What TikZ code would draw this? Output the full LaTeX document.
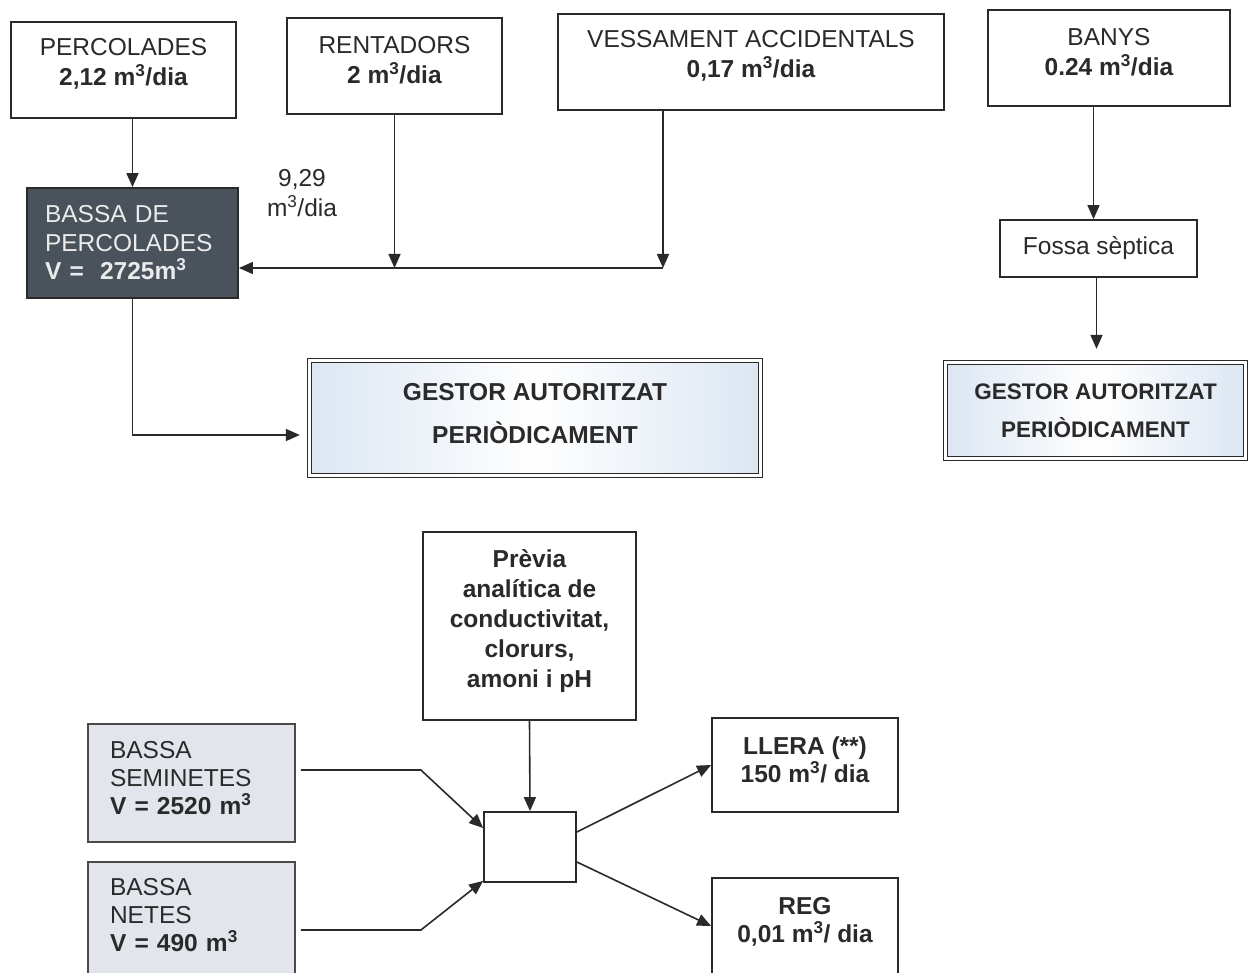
\documentclass[tikz,border=0pt]{standalone}
\usepackage{fontspec}
\setmainfont{Liberation Sans}
\usetikzlibrary{arrows.meta,calc}
\definecolor{ink}{HTML}{2A2A2A}
\definecolor{dark}{HTML}{4A535C}
\definecolor{pale}{HTML}{E2E6EC}
\definecolor{gblue}{HTML}{DCE6F2}
\begin{document}
\begin{tikzpicture}[x=1pt,y=-1pt,
  box/.style={draw=ink, line width=2.3pt, inner sep=0pt},
  thinbox/.style={box, line width=1.8pt},
  txt/.style={inner sep=0pt, align=center, text=ink, font=\fontsize{24.5}{30.5}\selectfont},
  btxt/.style={txt, font=\bfseries\fontsize{24.5}{28}\selectfont},
  gest/.style={draw=ink, double=white, double distance=2.5pt, line width=1.3pt,
    inner sep=0pt, align=center, text=ink,
    left color=gblue, right color=gblue, middle color=white},
  pond/.style={box, line width=1.8pt, draw=ink!85, fill=pale},
  pondtxt/.style={txt, align=left, text width=163pt, font=\fontsize{24.5}{28}\selectfont},
  arr/.style={draw=ink, line width=1.6pt, -{Triangle[width=12pt,length=14pt]}}]
\useasboundingbox (0,0) rectangle (1253,973);
\fill[white] (0,0) rectangle (1253,973);
\clip (0,0) rectangle (1253,973);

% top sources
\node[box, minimum width=225pt, minimum height=96pt] (perc) at (123.5,70) {};
\node[txt] (percT) at ([yshift=6pt]perc.center) {PERCOLADES\\\textbf{2,12 m\textsuperscript{3}/dia}};
\node[box, minimum width=215pt, minimum height=96pt] (rent) at (394.5,66) {};
\node[txt] (rentT) at ([yshift=6pt]rent.center) {RENTADORS\\\textbf{2 m\textsuperscript{3}/dia}};
\node[box, minimum width=386pt, minimum height=96pt] (vess) at (751,62) {};
\node[txt] (vessT) at ([yshift=6pt]vess.center) {VESSAMENT ACCIDENTALS\\\textbf{0,17 m\textsuperscript{3}/dia}};
\node[box, minimum width=242pt, minimum height=96pt] (banys) at (1109,58) {};
\node[txt] (banysT) at ([yshift=6pt]banys.center) {BANYS\\\textbf{0.24 m\textsuperscript{3}/dia}};

% bassa de percolades
\node[box, line width=1.8pt, fill=dark, text=white!92!black, align=left, text width=175pt,
  minimum width=211pt, minimum height=110pt, font=\fontsize{24.5}{28.5}\selectfont]
  (bassaP) at (132.5,243)
  {BASSA DE\\PERCOLADES\\\textbf{V =\ \ 2725m\textsuperscript{3}}};
\node[txt, font=\fontsize{24.5}{30}\selectfont] (flow) at (302,193) {9,29\\m\textsuperscript{3}/dia};

\node[thinbox, minimum width=197pt, minimum height=57pt, text=ink,
  font=\fontsize{24.5}{30}\selectfont] (fossa) at (1098.5,248.5) {Fossa sèptica};

\node[gest, minimum width=451pt, minimum height=115pt] (g1) at (535,418) {};
\node[txt, font=\bfseries\fontsize{24.5}{30.5}\selectfont] (g1T) at ([yshift=4pt]g1.center)
  {GESTOR AUTORITZAT\\[12.5pt]PERIÒDICAMENT};
\node[gest, minimum width=300pt, minimum height=96pt,
  font=\bfseries\fontsize{22.5}{28}\selectfont] (g2) at (1095.5,410.5)
  {GESTOR AUTORITZAT\\[10pt]PERIÒDICAMENT};

% connectors top
\coordinate (vj) at (663,268);
\draw[arr] (bassaP.north |- perc.south) -- (bassaP.north);
\draw[arr] (vj |- vess.south) -- (vj);
\draw[arr] (rent.south) -- (rent.south |- vj);
\draw[arr] (vj) -- (bassaP.east |- vj);
\draw[arr] (bassaP.south) |- ($(g1.west)+(-9,17)$);
\draw[arr] ($(fossa.north |- banys.south)+(-5,0)$) -- ($(fossa.north)+(-5,0)$);
\draw[arr] ($(fossa.south)+(-2,0)$) -- ($(fossa.south |- g2.north)+(-2,-13)$);

% bottom part
\node[thinbox, minimum width=213pt, minimum height=188pt] (prev) at (529.5,626) {};
\node[btxt, font=\bfseries\fontsize{24.5}{30}\selectfont] (prevT) at ([yshift=5pt]prev.center)
  {Prèvia\\analítica de\\conductivitat,\\clorurs,\\amoni i pH};
\node[thinbox, minimum width=92pt, minimum height=70pt] (sm) at (530,847) {};
\node[pond, minimum width=207pt, minimum height=118pt] (semi) at (191.5,783) {};
\node[pondtxt] (semiT) at ([yshift=5pt]semi.center)
  {BASSA\\SEMINETES\\\textbf{V = 2520 m\textsuperscript{3}}};
\node[pond, minimum width=207pt, minimum height=113pt] (netes) at (191.5,918.5) {};
\node[pondtxt] (netesT) at ([yshift=3pt]netes.center)
  {BASSA\\NETES\\\textbf{V = 490 m\textsuperscript{3}}};
\node[thinbox, minimum width=186pt, minimum height=94pt] (llera) at (805,765) {};
\node[btxt] (lleraT) at ([yshift=5pt]llera.center) {LLERA (**)\\150 m\textsuperscript{3}/ dia};
\node[thinbox, minimum width=186pt, minimum height=96pt] (reg) at (805,926) {};
\node[btxt] (regT) at ([yshift=4pt]reg.center) {REG\\0,01 m\textsuperscript{3}/ dia};

\draw[arr] (prev.south) -- (sm.north);
\draw[arr] ($(semi.east)+(5,-13)$) -- ++(120,0) -- ($(sm.west)+(0,-19)$);
\draw[arr] ($(netes.east)+(5,11.5)$) -- ++(120,0) -- ($(sm.south west)+(0,-2)$);
\draw[arr] ($(sm.east)+(0,-15)$) -- (llera.west);
\draw[arr] ($(sm.east)+(0,15)$) -- (reg.west);
\end{tikzpicture}
\end{document}
